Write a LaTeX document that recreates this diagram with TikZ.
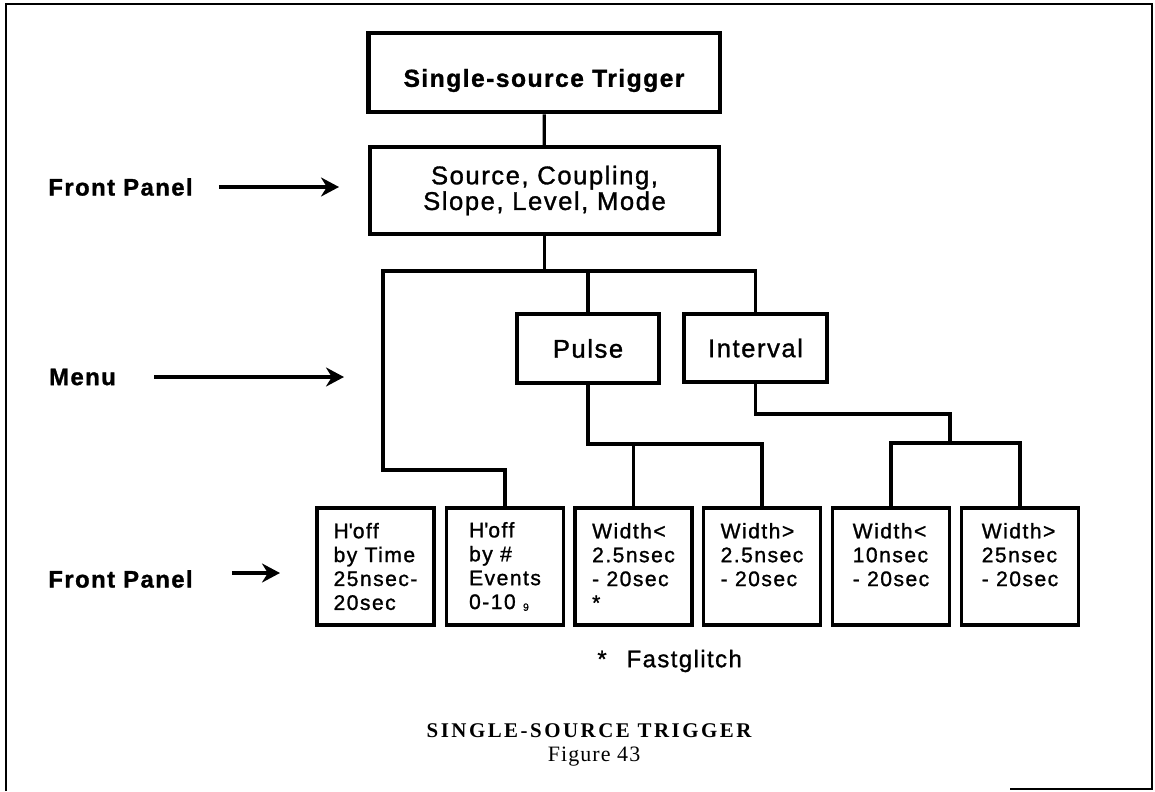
\documentclass[tikz,border=0pt]{standalone}
\usepackage{fontspec}
\setmainfont{Liberation Sans}
\newfontfamily\panelfont[LetterSpace=6, FakeBold=1.2]{Liberation Sans}
\newfontfamily\leaffont[LetterSpace=7, FakeBold=1.2]{Liberation Sans}
\newfontfamily\capfont[LetterSpace=12]{Liberation Serif}
\newfontfamily\numfont[LetterSpace=5]{Liberation Serif}
\usetikzlibrary{arrows.meta, positioning}

\begin{document}
\begin{tikzpicture}[
    x=0.02cm, y=-0.02cm,
    box/.style={rectangle, draw, align=center, line width=1.8pt, inner sep=0pt, font=\panelfont\fontsize{14.6}{13.3}\selectfont},
    leaf/.style={rectangle, draw, align=left, line width=1.8pt, inner sep=0pt, minimum width=2.34cm, minimum height=2.34cm, font=\leaffont\fontsize{12}{13.6}\selectfont},
    lab/.style={font=\panelfont\bfseries\fontsize{13.6}{13.3}\selectfont},
    arrow/.style={-{Stealth[length=0.36cm, width=0.38cm]}, line width=2pt},
    link/.style={line width=1.8pt}
]

\useasboundingbox (0,0) rectangle (1155,791);
\draw[line width=1.1pt] (6,791) -- (6,4) -- (1152,4) -- (1152,789) -- (1010,789);

\node[box, line width=2.8pt, minimum width=7.04cm, minimum height=1.58cm, font=\panelfont\bfseries\fontsize{14}{13.3}\selectfont] (title) at (544,72.5) {\raisebox{-0.16cm}[\height][\depth]{Single-source Trigger}};
\node[box, minimum width=6.98cm, minimum height=1.74cm] (panel) at (544.5,190.5) {Source, Coupling,\\Slope, Level, Mode};
\node[box, minimum width=2.84cm, minimum height=1.38cm] (pulse) at (588,348.5) {Pulse};
\node[box, minimum width=2.86cm, minimum height=1.36cm] (interval) at (755.5,348) {Interval};

\node[leaf] (htime)   at (375.5,566.5) {H\textquotesingle off\\by Time\\25nsec-\\20sec};
\node[leaf] (hevents) at (505,566.5)   {H\textquotesingle off\\by \#\\Events\\0-10 \raisebox{-1pt}{\fontsize{6}{6}\selectfont 9}};
\node[leaf] (pnarrow) at (633.5,566.5) {Width<\\2.5nsec\\- 20sec\\*};
\node[leaf] (pwide)   at (762,566.5)   {Width>\\2.5nsec\\- 20sec\\\mbox{}};
\node[leaf] (inarrow) at (891,566.5)   {Width<\\10nsec\\- 20sec\\\mbox{}};
\node[leaf] (iwide)   at (1020,566.5)  {Width>\\25nsec\\- 20sec\\\mbox{}};

\node[lab] (fptop) at (120.5,187) {Front Panel};
\node[lab] (menu)  at (82.5,377)  {Menu};
\node[lab] (fpbot) at (120.5,579) {Front Panel};

\node[anchor=west, inner sep=0pt, font=\panelfont\fontsize{13.6}{13.3}\selectfont] (glitch) at (597,661) {*\hspace{0.4cm}Fastglitch};
\node[font=\capfont\bfseries\fontsize{11.9}{12}\selectfont] (caption) at (589,731) {SINGLE-SOURCE TRIGGER};
\node[font=\numfont\fontsize{12.5}{12}\selectfont] (fignum) at (594,757) {Figure 43};

\coordinate (fptip)    at (339,187);
\coordinate (menutip)  at (344,377);
\coordinate (fpbtip)   at (280,573);
\coordinate (bar)      at (544.5,271);
\coordinate (menuturn) at (383,470);
\coordinate (pbar)     at (588,444);
\coordinate (iturn)    at (950,414);
\coordinate (ibar)     at (950,443);

% Edges
\draw[arrow, shorten <=0.4cm]  (fptop.east |- fptip) -- (fptip);
\draw[arrow, shorten <=0.64cm] (menu.east |- menutip) -- (menutip);
\draw[arrow, shorten <=0.66cm] (fpbot.east |- fpbtip) -- (fpbtip);

\draw[link] (title) -- (panel);
\draw[link] (panel) -- (bar);
\draw[link] (interval) |- (bar);
\draw[link] (pulse) -- (pulse |- bar);
\draw[link] (hevents) |- (menuturn) |- (bar);

\draw[link] (pulse) -- (pbar) -| (pwide);
\draw[link] (pnarrow) -- (pnarrow |- pbar);

\draw[link] (interval) |- (iturn) -- (ibar);
\draw[link] (inarrow) |- (ibar) -| (iwide);

\end{tikzpicture}
\end{document}
